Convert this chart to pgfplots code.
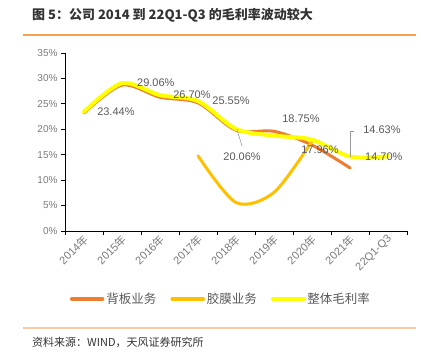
\documentclass[border=0pt]{standalone}
\usepackage{pgfplots}
\pgfplotsset{compat=1.18}
\usepackage{fontspec}
\setmainfont{Liberation Sans}
\newfontfamily\cjk{Noto Sans CJK SC}
\definecolor{cBack}{HTML}{ED7D31}
\definecolor{cFilm}{HTML}{FFC000}
\definecolor{cAll}{HTML}{FFFF00}
\definecolor{txt}{HTML}{595959}
\definecolor{tickc}{HTML}{7A7A7A}
\definecolor{ruleA}{HTML}{F5A04F}
\definecolor{ruleB}{HTML}{FAC9A0}
\begin{document}
\begin{tikzpicture}[x=1bp,y=1bp]
\useasboundingbox (0,0) rectangle (432,359);
\node[anchor=west, inner sep=0, text=black!80] at (32,344) {\fontsize{13bp}{15bp}\selectfont\bfseries\cjk 图 5：公司 2014 到 22Q1-Q3 的毛利率波动较大};
\draw[ruleA, line width=1.5bp] (23,324) -- (416,324);
\draw[ruleB, line width=1.5bp] (23,31) -- (416,31);
\node[anchor=west, inner sep=0, text=black!80] at (32,17) {\fontsize{11bp}{13bp}\selectfont\cjk 资料来源：WIND，天风证券研究所};
\begin{axis}[
 at={(65bp,128bp)}, anchor=south west,
 scale only axis, width=342bp, height=178bp,
 xmin=-0.5, xmax=8.5, ymin=0, ymax=35,
 clip=false,
 axis x line*=bottom, axis y line*=left,
 axis line style={black, line width=0.8bp, -},
 tick align=outside,
 xtick={0,...,8},
 xticklabels={2014{\cjk 年},2015{\cjk 年},2016{\cjk 年},2017{\cjk 年},2018{\cjk 年},2019{\cjk 年},2020{\cjk 年},2021{\cjk 年},22Q1-Q3},
 major x tick style={draw=none},
 minor xtick={-0.5,0.5,...,8.5},
 minor tick length=4bp,
 minor x tick style={black, line width=0.8bp},
 ytick={0,5,...,35},
 yticklabels={0\%,5\%,10\%,15\%,20\%,25\%,30\%,35\%},
 major tick length=4bp,
 y tick style={black, line width=0.8bp},
 xticklabel style={rotate=45, anchor=east, font=\fontsize{11bp}{13bp}\selectfont, text=tickc, inner sep=1bp, yshift=-3bp, xshift=1bp},
 yticklabel style={font=\fontsize{10bp}{12bp}\selectfont, text=tickc},
 legend columns=3,
 legend style={at={(0.456,-0.382)}, anchor=center, draw=none, fill=none,
   font=\fontsize{12.5bp}{14bp}\selectfont\cjk, text=txt,
   /tikz/every even column/.append style={column sep=12bp}},
 legend image code/.code={\draw[#1, line width=3.5bp, line cap=round] (0bp,0bp) -- (31bp,0bp);},
]
\addplot[cBack, line width=3bp, smooth, line cap=round] coordinates {(0,23.2)(1,28.7)(2,26.3)(3,25.2)(4,19.8)(5,19.6)(6,16.9)(7,12.4)};
\addlegendentry{背板业务}
\addplot[cFilm, line width=3bp, smooth, line cap=round] coordinates {(3,14.8)(4,5.6)(5,7.6)(6,17.7)};
\addlegendentry{胶膜业务}
\addplot[cAll, line width=4bp, smooth, line cap=round] coordinates {(0,23.44)(1,29.06)(2,26.70)(3,25.55)(4,20.06)(5,18.75)(6,17.96)(7,14.63)(8,14.70)};
\addlegendentry{整体毛利率}
\begin{scope}[every node/.style={font=\fontsize{11bp}{13bp}\selectfont, text=txt, inner sep=0}]
\node at (axis cs:0.84,23.4) {23.44\%};
\node at (axis cs:1.89,29.1) {29.06\%};
\node at (axis cs:2.84,26.8) {26.70\%};
\node at (axis cs:3.87,25.6) {25.55\%};
\node at (axis cs:4.16,14.55) {20.06\%};
\node at (axis cs:5.71,22.0) {18.75\%};
\node at (axis cs:6.21,15.9) {17.96\%};
\node at (axis cs:7.84,19.9) {14.63\%};
\node at (axis cs:7.89,14.55) {14.70\%};
\end{scope}
\draw[black!40, line width=0.6bp] (axis cs:4.02,20.06) -- (axis cs:4.16,16.7);
\draw[black!40, line width=0.6bp] (axis cs:7.02,14.6) -- (axis cs:7.02,19.7) -- (axis cs:7.11,19.7);
\end{axis}
\end{tikzpicture}
\end{document}
